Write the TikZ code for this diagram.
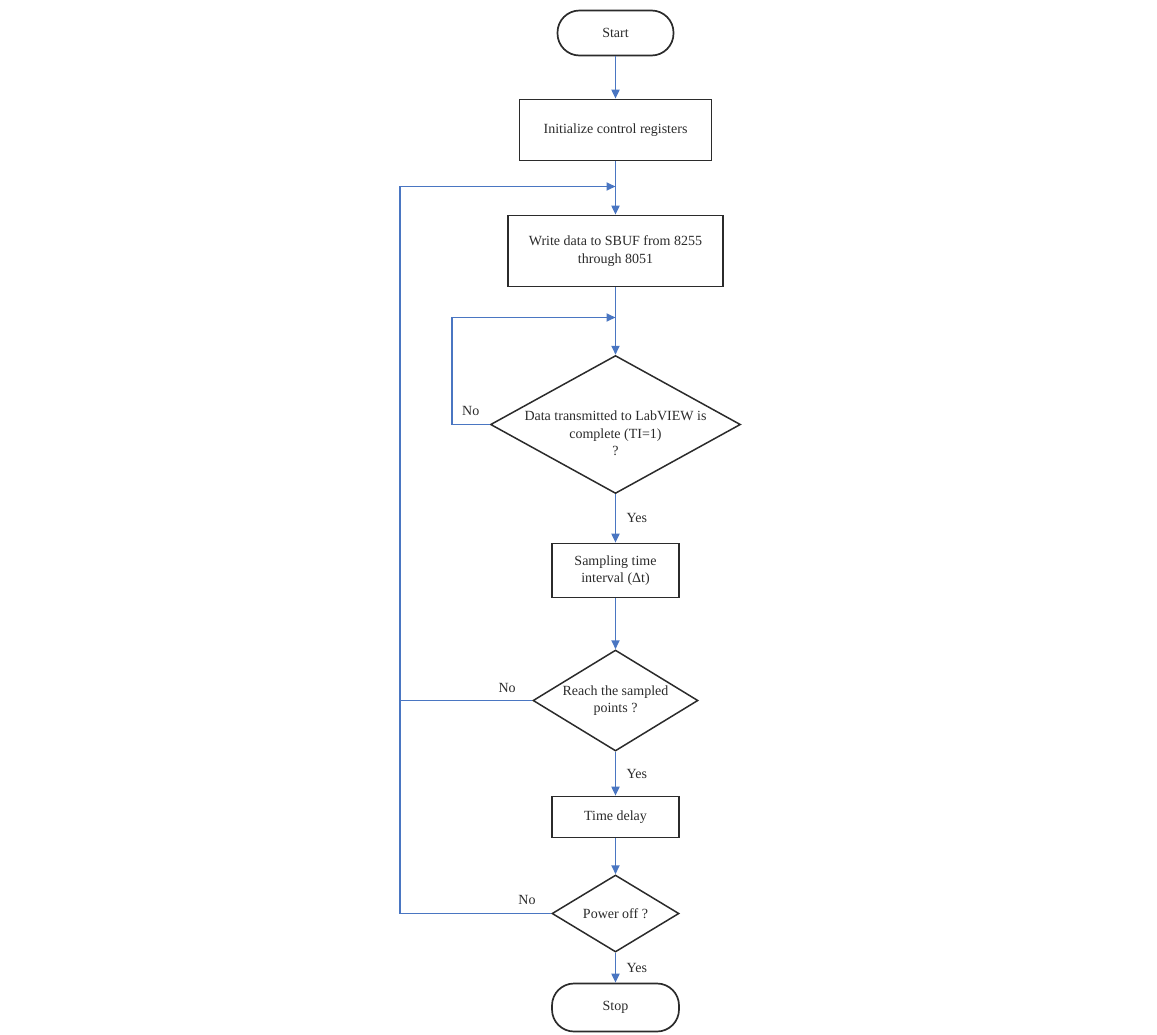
\documentclass[tikz,border=0pt]{standalone}
\usepackage{fontspec}
\setmainfont{Liberation Serif}
\usetikzlibrary{arrows.meta, shapes.geometric}
\definecolor{flow}{HTML}{4A76C2}
\definecolor{ink}{HTML}{2B2B2B}

\begin{document}
\begin{tikzpicture}[x=1pt, y=-1pt,
      font=\fontsize{14}{17.5}\selectfont,
      box/.style={draw=ink, line width=1.7pt, fill=white, align=center, inner sep=0pt, text=ink},
      term/.style={box, rounded corners=22pt},
      dec/.style={draw=ink, line width=1.5pt, diamond, inner sep=0pt},
      link/.style={draw=flow, line width=1.8pt, -{Triangle[length=9pt, width=8pt]}},
      wire/.style={draw=flow, line width=1.8pt},
      lbl/.style={text=ink}
    ]
    \useasboundingbox (0,0) rectangle (1157,1034);

    \node[term, minimum width=116pt, minimum height=45pt] (start) at (615.5,33) {Start};
    \node[box, minimum width=192pt, minimum height=61pt] (init) at (615.5,130) {Initialize control registers};
    \node[box, minimum width=215pt, minimum height=71pt] (write) at (615.5,251) {Write data to SBUF from 8255\\through 8051};
    \node[dec, minimum width=250pt, minimum height=138pt,
      label={[align=center, text=ink, yshift=-9pt]center:Data transmitted to LabVIEW is\\complete (TI=1)\\?}] (done) at (615.5,424.5) {};
    \node[box, minimum width=127pt, minimum height=54pt] (samp) at (615.5,570.5) {Sampling time\\interval (Δt)};
    \node[dec, minimum width=165pt, minimum height=101pt,
      label={[align=center, text=ink]center:Reach the sampled\\points ?}] (reach) at (615.5,700.5) {};
    \node[box, minimum width=127pt, minimum height=41pt] (delay) at (615.5,817) {Time delay};
    \node[dec, minimum width=127pt, minimum height=77pt,
      label={[text=ink]center:Power off ?}] (power) at (615.5,913.5) {};
    \node[term, minimum width=127pt, minimum height=48pt] (stop) at (615.5,1007.5) {Stop};

    \coordinate (outer) at (615.5,186.5);
    \coordinate (inner) at (615.5,317.5);

    \draw[link] (start) -- (init);
    \draw[link] (init) -- (write);
    \draw[link] (write) -- (done);
    \draw[link] (done) -- node[lbl, right=7pt] {Yes} (samp);
    \draw[link] (samp) -- (reach);
    \draw[link] (reach) -- node[lbl, right=7pt] {Yes} (delay);
    \draw[link] (delay) -- (power);
    \draw[link] (power) -- node[lbl, right=7pt] {Yes} (stop);

    % no-branches back into the loop
    \draw[link] (done.west) -- node[lbl, above=5pt] {No} ++(-38,0) |- (inner);
    \draw[wire] (reach.west) -- node[lbl, above=4pt, pos=0.19] {No} ++(-132.5,0);
    \draw[link] (power.west) -- node[lbl, above=5pt, pos=0.16] {No} ++(-151.5,0) |- (outer);
  \end{tikzpicture}
\end{document}
